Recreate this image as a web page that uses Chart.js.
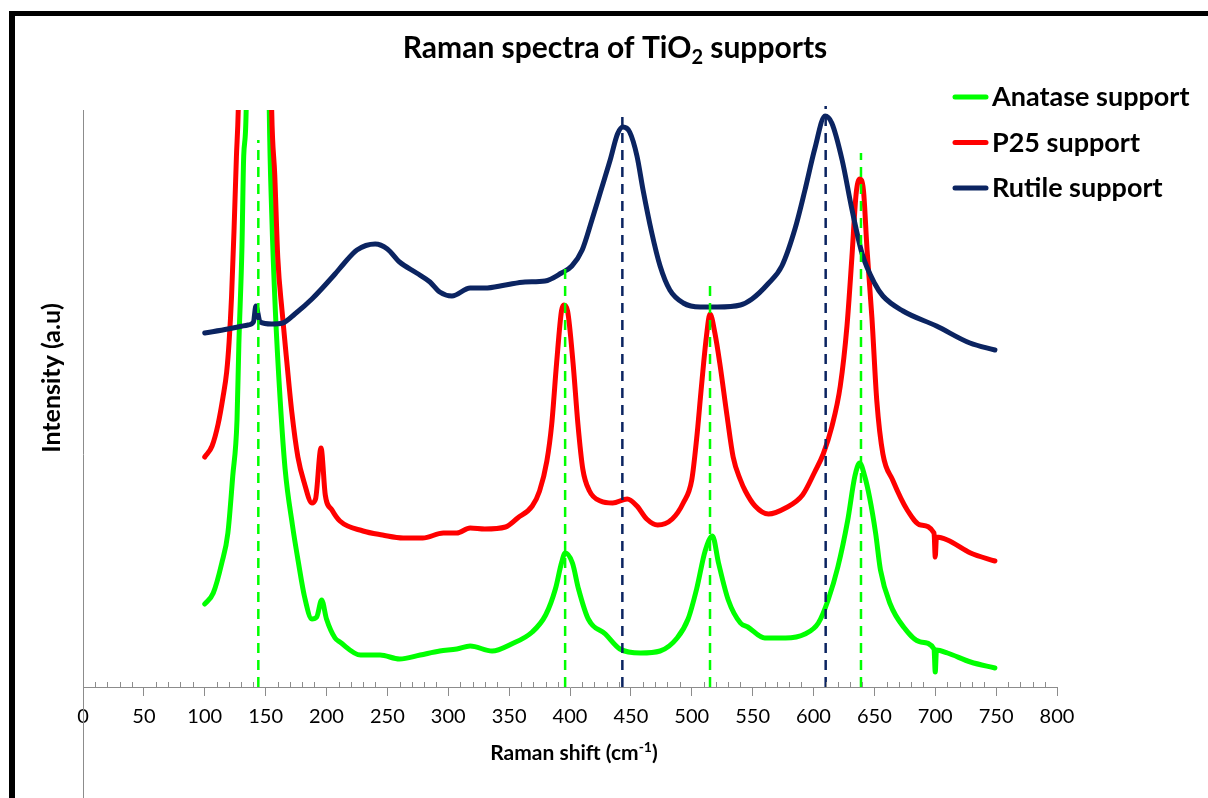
<!DOCTYPE html>
<html>
<head>
<meta charset="utf-8">
<title>Raman spectra of TiO2 supports</title>
<script src="https://cdn.jsdelivr.net/npm/chart.js@4.4.1/dist/chart.umd.min.js"></script>
<style>
  html, body { margin: 0; padding: 0; background: #fff; overflow: hidden; }
  #chart { display: block; }
</style>
</head>
<body>
<canvas id="chart" width="1208" height="798"></canvas>
<script>
// ===== DATA =====
// Raman shift in cm-1, intensity in arbitrary units
const anataseShift = [100, 107, 114, 119, 123, 126.5, 128, 130.5, 132, 134, 143, 153, 155, 158, 162, 166, 172, 177, 182, 188, 192, 196, 200, 207, 211, 228, 244, 260, 277, 293, 307, 318, 336, 352, 369, 380, 388, 393, 396, 402, 407, 415, 429, 441, 458, 474, 488, 497, 504, 511, 517, 522, 530, 540, 546, 560, 577, 593, 604, 612, 620, 628, 634, 638, 642, 646, 651, 655, 663, 674, 688, 699, 700, 701, 710, 729, 749];
const anataseInt = [83, 94, 124, 154, 211, 267, 342, 437, 531, 576, 1800, 576, 474, 376, 286, 218, 162, 124, 90, 68, 70, 87, 68, 49, 45, 32, 32, 28, 32, 36, 38, 41, 36, 43, 55, 72, 98, 124, 134, 124, 98, 68, 53, 38, 34, 36, 49, 68, 98, 136, 151, 124, 87, 64, 60, 49, 49, 53, 64, 87, 120, 166, 211, 224, 211, 190, 154, 117, 83, 60, 45, 38, 15, 37, 34, 25, 19];

const p25Shift = [100, 106, 111, 115, 118, 120, 122, 124, 126, 127.5, 143, 155, 157.5, 160, 163.5, 167.5, 171.5, 176.5, 182, 188, 191, 195.5, 199, 204.5, 211, 230, 246, 263, 279, 296, 307, 318, 330, 347, 357, 369, 375, 381, 385, 389, 393, 395, 398, 402.5, 406.5, 410.5, 416, 425, 435, 447, 455, 463, 472, 484, 493, 500, 504, 508, 512, 515, 519, 523, 529, 534, 540, 544, 552, 563, 577, 591, 601, 608, 615, 622, 627.5, 631.5, 635, 638, 641, 644, 648, 652, 657, 665, 677, 688, 699, 700, 701, 710, 729, 749];
const p25Int = [230, 241, 263, 290, 315, 345, 390, 455, 530, 576, 1600, 576, 512, 429, 376, 324, 275, 230, 203, 184, 188, 239, 192, 177, 166, 156, 152, 149, 149, 154, 154, 159, 158, 160, 169, 181, 196, 226, 263, 324, 376, 382, 376, 324, 263, 218, 196, 186, 184, 188, 181, 168, 162, 168, 184, 207, 248, 301, 350, 373, 354, 324, 271, 230, 207, 196, 181, 173, 179, 192, 215, 233, 260, 301, 361, 429, 493, 508, 497, 437, 369, 286, 233, 207, 177, 162, 154, 130, 150, 147, 134, 126];

const rutileShift = [100, 119, 135.5, 140, 142, 145.5, 155, 164, 174, 188, 207, 214, 225, 240, 250, 260, 274, 285, 293, 303, 318, 330, 347, 363, 379.5, 393, 401.5, 410, 418, 425, 433, 439, 443.5, 449, 455, 460, 467, 474, 482, 493, 507, 521, 540, 549.5, 562.5, 574, 585, 593, 601, 609.5, 615, 623.5, 631.5, 640, 650.5, 657, 673.5, 701, 728.5, 749];
const rutileInt = [354, 358, 362, 365, 381, 365, 363, 364, 373, 388, 413, 423, 437, 443, 438, 425, 414, 405, 395, 391, 399, 399, 402, 405, 406, 414, 421, 437, 467, 495, 527, 553, 560, 555, 531, 497, 455, 421, 397, 384, 380, 380, 382, 388, 403, 421, 459, 497, 538, 571, 564, 527, 478, 433, 403, 391, 376, 361, 344, 337];

// reference band positions (dashed markers) and how high they reach
const anataseBands = [144, 396, 515, 639];
const anataseBandTop = [547, 420, 406, 534];
const rutileBands = [443, 610];
const rutileBandTop = [570, 581];

// x axis tick labels
const xLabels = [0, 50, 100, 150, 200, 250, 300, 350, 400, 450, 500, 550, 600, 650, 700, 750, 800];

const seriesNames = ["Anatase support", "P25 support", "Rutile support"];
const GREEN = "#00ff00";
const RED = "#ff0000";
const NAVY = "#0b2461";
const AXIS = "#8c8c8c";
const FONT = "Lato";

function pts(xs, ys) {
  return xs.map((x, i) => ({ x: x, y: ys[i] }));
}

function spectrum(label, xs, ys, color, order) {
  return {
    label: label,
    data: pts(xs, ys),
    borderColor: color,
    backgroundColor: color,
    borderWidth: 5,
    pointRadius: 0,
    cubicInterpolationMode: 'monotone',
    borderJoinStyle: 'round',
    borderCapStyle: 'round',
    clip: 0,
    order: order
  };
}

function bandLines(bands, tops, color) {
  return bands.map((b, i) => ({
    label: "band " + b,
    data: [{ x: b, y: 0 }, { x: b, y: tops[i] }],
    borderColor: color,
    borderWidth: 2.5,
    borderDash: [10, 7],
    pointRadius: 0,
    clip: false,
    order: 0
  }));
}

// ===== extra drawing: frame, minor ticks, titles, legend =====
const decor = {
  id: 'decor',
  afterDraw(chart) {
    const ctx = chart.ctx;
    const xs = chart.scales.x;
    const ys = chart.scales.y;
    const y0 = ys.getPixelForValue(0);

    ctx.save();

    // black frame of the figure
    ctx.fillStyle = "#000";
    ctx.fillRect(9, 11, 6, 798);
    ctx.fillRect(9, 11, 1208, 5);

    // minor ticks sit above the axis
    ctx.strokeStyle = AXIS;
    ctx.lineWidth = 1;
    xs.ticks.forEach(t => {
      if (t.value % 50 === 0) return;
      const px = Math.round(xs.getPixelForValue(t.value)) + 0.5;
      ctx.beginPath();
      ctx.moveTo(px, y0 - 5);
      ctx.lineTo(px, y0);
      ctx.stroke();
    });

    ctx.fillStyle = "#000";
    ctx.textBaseline = "alphabetic";

    // chart title with subscript
    drawParts(ctx, [
      { t: "Raman spectra of TiO", s: 30, dy: 0 },
      { t: "2", s: 20, dy: 6 },
      { t: " supports", s: 30, dy: 0 }
    ], 615, 58);

    // x axis title with superscript
    drawParts(ctx, [
      { t: "Raman shift (cm", s: 21, dy: 0 },
      { t: "-1", s: 14, dy: -8 },
      { t: ")", s: 21, dy: 0 }
    ], 574, 760);

    // y axis title
    ctx.save();
    ctx.translate(60, 378);
    ctx.rotate(-Math.PI / 2);
    ctx.font = "bold 25px " + FONT;
    ctx.textAlign = "center";
    ctx.fillText("Intensity (a.u)", 0, 0);
    ctx.restore();

    // legend
    const legendColors = [GREEN, RED, NAVY];
    ctx.font = "bold 27px " + FONT;
    ctx.textAlign = "left";
    seriesNames.forEach((name, i) => {
      const base = 106 + i * 45.5;
      ctx.strokeStyle = legendColors[i];
      ctx.lineWidth = 5;
      ctx.lineCap = "round";
      ctx.beginPath();
      ctx.moveTo(955, base - 9);
      ctx.lineTo(986, base - 9);
      ctx.stroke();
      ctx.fillText(name, 992, base);
    });

    ctx.restore();
  }
};

function drawParts(ctx, parts, cx, baseline) {
  let total = 0;
  parts.forEach(p => {
    ctx.font = "bold " + p.s + "px " + FONT;
    p.w = ctx.measureText(p.t).width;
    total += p.w;
  });
  let x = cx - total / 2;
  ctx.textAlign = "left";
  parts.forEach(p => {
    ctx.font = "bold " + p.s + "px " + FONT;
    ctx.fillText(p.t, x, baseline + p.dy);
    x += p.w;
  });
}

// ===== CHART =====
const chart = new Chart(document.getElementById("chart"), {
  type: 'line',
  data: {
    datasets: [
      spectrum(seriesNames[0], anataseShift, anataseInt, GREEN, 3),
      spectrum(seriesNames[1], p25Shift, p25Int, RED, 2),
      spectrum(seriesNames[2], rutileShift, rutileInt, NAVY, 1),
      ...bandLines(anataseBands, anataseBandTop, GREEN),
      ...bandLines(rutileBands, rutileBandTop, NAVY)
    ]
  },
  options: {
    responsive: false,
    animation: false,
    events: [],
    layout: { padding: { top: 110, left: 83, right: 151, bottom: 0 } },
    plugins: {
      legend: { display: false },
      title: { display: false },
      tooltip: { enabled: false }
    },
    scales: {
      x: {
        type: 'linear',
        min: 0,
        max: 800,
        position: { y: 0 },
        ticks: {
          stepSize: 10,
          maxTicksLimit: 100,
          autoSkip: false,
          maxRotation: 0,
          padding: 10,
          color: "#000",
          font: { family: FONT, size: 20 },
          callback: v => xLabels.includes(v) ? String(v) : ""
        },
        grid: {
          display: true,
          drawOnChartArea: false,
          drawTicks: true,
          tickLength: 8,
          tickColor: c => (c.tick && c.tick.value % 50 === 0) ? AXIS : "rgba(0,0,0,0)"
        },
        border: { display: true, color: AXIS, width: 1 }
      },
      y: {
        type: 'linear',
        min: -111,
        max: 577,
        ticks: { display: false },
        grid: { display: false, drawTicks: false, tickLength: 0 },
        border: { display: true, color: AXIS, width: 1 }
      }
    }
  },
  plugins: [decor]
});
</script>
</body>
</html>
